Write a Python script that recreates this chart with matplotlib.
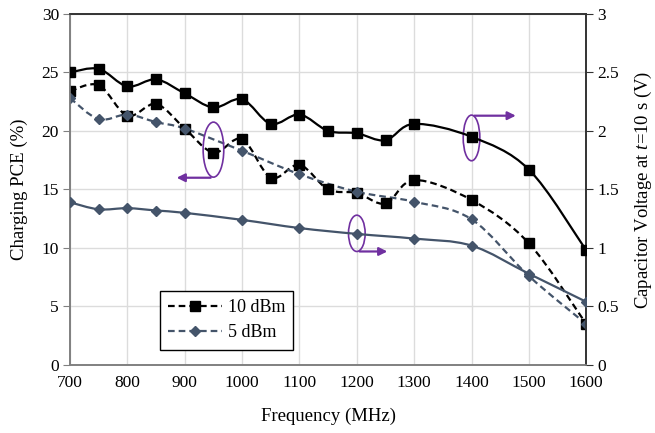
import matplotlib
matplotlib.use("Agg")
import matplotlib.pyplot as plt
import numpy as np
from matplotlib.path import Path
from matplotlib.patches import PathPatch, Ellipse, FancyArrowPatch
from matplotlib.lines import Line2D
from matplotlib.ticker import FuncFormatter

plt.rcParams['font.family'] = ['Liberation Serif', 'DejaVu Serif']
plt.rcParams['mathtext.fontset'] = 'custom'
plt.rcParams['mathtext.it'] = 'Liberation Serif:italic'
plt.rcParams['mathtext.rm'] = 'Liberation Serif'

# charging PCE (%) - left axis
freq_10 = [700, 750, 800, 850, 900, 950, 1000, 1050, 1100, 1150, 1200, 1250, 1300, 1400, 1500, 1600]
pce_10 = [23.4, 23.9, 21.3, 22.3, 20.2, 18.15, 19.3, 16.0, 17.1, 15.0, 14.7, 13.8, 15.8, 14.1, 10.4, 3.5]
freq_5 = [700, 750, 800, 850, 900, 1000, 1100, 1200, 1300, 1400, 1500, 1600]
pce_5 = [22.8, 21.0, 21.4, 20.75, 20.2, 18.3, 16.3, 14.8, 13.95, 12.45, 7.6, 3.5]

# capacitor voltage at t=10 s (V) - right axis
volt_10 = [2.50, 2.53, 2.38, 2.44, 2.32, 2.20, 2.27, 2.06, 2.14, 2.00, 1.98, 1.92, 2.06, 1.95, 1.67, 0.98]
volt_5 = [1.39, 1.33, 1.34, 1.32, 1.30, 1.24, 1.17, 1.12, 1.08, 1.02, 0.78, 0.54]

BLACK = '#000000'
SLATE = '#44546A'
PURPLE = '#7030A0'


def smooth_path(x, y):
    # bezier curve through the points, like a spreadsheet "smoothed line"
    p = np.column_stack([x, y]).astype(float)
    ext = np.vstack([p[0], p, p[-1]])
    verts = [p[0]]
    codes = [Path.MOVETO]
    for i in range(len(p) - 1):
        p0, p1, p2, p3 = ext[i], ext[i + 1], ext[i + 2], ext[i + 3]
        c1 = p1 + (p2 - p0) / 6.0
        c2 = p2 - (p3 - p1) / 6.0
        verts += [c1, c2, p2]
        codes += [Path.CURVE4] * 3
    return Path(verts, codes)


def draw(ax, x, y, color, ls, marker, ms):
    ax.add_patch(PathPatch(smooth_path(x, y), fill=False, edgecolor=color,
                           linewidth=1.6, linestyle=ls, zorder=3))
    ax.plot(x, y, ls='none', marker=marker, ms=ms, color=color, zorder=4)


fig = plt.figure(figsize=(6.55, 4.33), dpi=100)
ax = fig.add_axes([0.107, 0.157, 0.788, 0.811])
ax2 = ax.twinx()

dash = (0, (3, 1.8))
draw(ax, freq_10, pce_10, BLACK, dash, 's', 6.5)
draw(ax, freq_5, pce_5, SLATE, dash, 'D', 5.5)
draw(ax2, freq_10, volt_10, BLACK, '-', 's', 6.5)
draw(ax2, freq_5, volt_5, SLATE, '-', 'D', 5.5)

ax.set_xlim(700, 1600)
ax.set_ylim(0, 30)
ax2.set_ylim(0, 3)
ax.set_xticks(range(700, 1601, 100))
ax.set_yticks(range(0, 31, 5))
ax2.set_yticks(np.arange(0, 3.01, 0.5))
ax2.yaxis.set_major_formatter(FuncFormatter(lambda v, p: '%g' % v))

ax.grid(True, color='#dcdcdc', linewidth=1.0)
ax.set_axisbelow(True)

for a in (ax, ax2):
    a.spines['left'].set_color('#808080')
    a.spines['bottom'].set_color('#808080')
    a.spines['top'].set_color('#333333')
    a.spines['right'].set_color('#333333')
    for s in a.spines.values():
        s.set_linewidth(1.2)

ax.tick_params(axis='x', length=0, labelsize=12.5, pad=7)
ax.tick_params(axis='y', length=5, color='#808080', labelsize=12.5, direction='out', pad=3)
ax2.tick_params(axis='y', length=5, color='#333333', labelsize=12.5, direction='out', pad=3)

ax.set_xlabel('Frequency (MHz)', fontsize=13.5, labelpad=12)
ax.set_ylabel('Charging PCE (%)', fontsize=13.5, labelpad=10)
ax2.set_ylabel('Capacitor Voltage at $t$=10 s (V)', fontsize=13.5, labelpad=10)

# which axis each group of curves belongs to
ann = [
    (950, 18.4, 36, 4.7, 16.0, 881),
    (1400, 19.4, 29, 3.9, 21.3, 1482),
    (1200, 11.25, 29, 3.1, 9.7, 1258),
]
for cx, cy, w, h, ay, ax_end in ann:
    ax.add_patch(Ellipse((cx, cy), w, h, fill=False, edgecolor=PURPLE,
                         linewidth=1.2, zorder=5))
    ax.add_patch(FancyArrowPatch((cx, ay), (ax_end, ay), arrowstyle='-|>',
                                 mutation_scale=12, color=PURPLE,
                                 linewidth=1.6, zorder=5))

handles = [
    Line2D([], [], color=BLACK, ls=dash, lw=1.6, marker='s', ms=6.5),
    Line2D([], [], color=SLATE, ls=dash, lw=1.6, marker='D', ms=5.5),
]
leg = ax2.legend(handles, ['10 dBm', '5 dBm'], loc='lower left',
                 bbox_to_anchor=(0.174, 0.044), fontsize=13, frameon=True,
                 fancybox=False, framealpha=1, edgecolor='#000000',
                 handlelength=3.0, handletextpad=0.3, borderpad=0.45,
                 labelspacing=0.45, borderaxespad=0)
leg.get_frame().set_linewidth(1.0)

fig.savefig('out.png', dpi=100)
